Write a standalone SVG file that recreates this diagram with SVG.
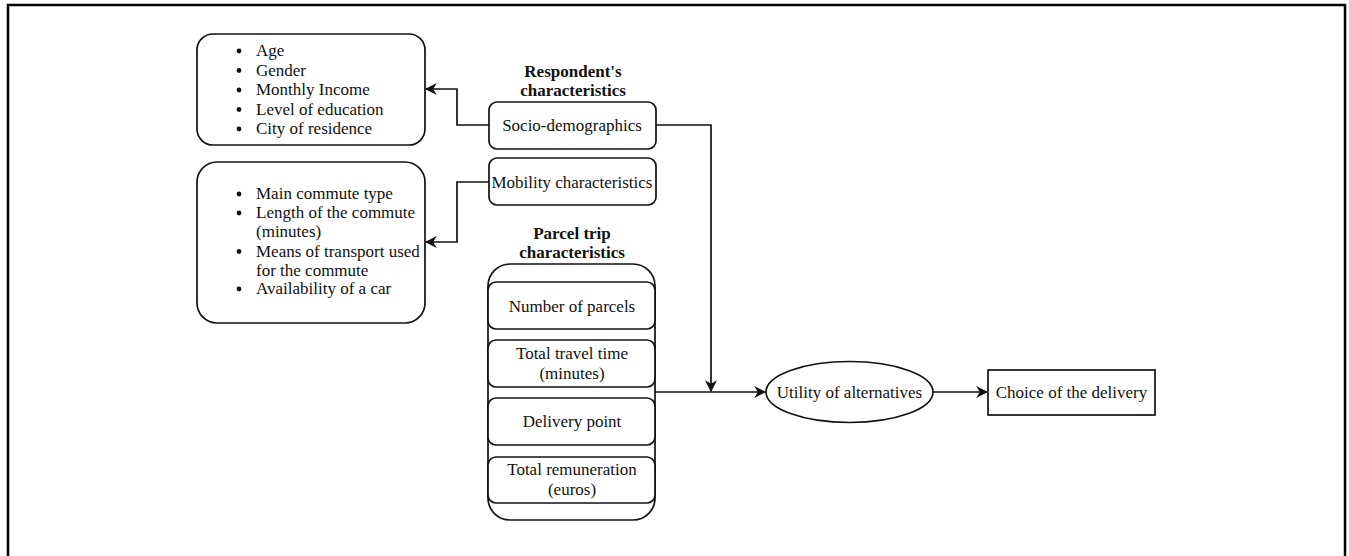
<svg xmlns="http://www.w3.org/2000/svg" width="1349" height="556" viewBox="0 0 1349 556">
<style>
text{font-family:"Liberation Serif","Times New Roman",serif;font-size:17px;fill:#111}
.c{text-anchor:middle}
.b{font-weight:bold}
.box{fill:#fff;stroke:#111;stroke-width:1.7}
.ln{fill:none;stroke:#111;stroke-width:1.7}
</style>
<defs>
<marker id="ah" viewBox="0 0 10 10" refX="9" refY="5" markerWidth="12" markerHeight="12" markerUnits="userSpaceOnUse" orient="auto">
<path d="M0,0 L10,5 L0,10 L3,5 z" fill="#111"/>
</marker>
</defs>
<rect width="1349" height="556" fill="#fff"/>
<path d="M8,556 V5 H1345 V556" fill="none" stroke="#000" stroke-width="2.5"/>

<g id="socio-list">
<rect class="box" x="197" y="34" width="228" height="111" rx="16"/>
<circle cx="239" cy="51" r="2.4" fill="#111"/><text x="256" y="56">Age</text>
<circle cx="239" cy="70.5" r="2.4" fill="#111"/><text x="256" y="75.5">Gender</text>
<circle cx="239" cy="90" r="2.4" fill="#111"/><text x="256" y="95">Monthly Income</text>
<circle cx="239" cy="109.5" r="2.4" fill="#111"/><text x="256" y="114.5">Level of education</text>
<circle cx="239" cy="129" r="2.4" fill="#111"/><text x="256" y="134">City of residence</text>
</g>

<g id="mobility-list">
<rect class="box" x="197" y="162" width="228" height="161" rx="20"/>
<circle cx="239" cy="194" r="2.4" fill="#111"/><text x="256" y="199">Main commute type</text>
<circle cx="239" cy="213" r="2.4" fill="#111"/><text x="256" y="218">Length of the commute</text>
<text x="256" y="237">(minutes)</text>
<circle cx="239" cy="251.5" r="2.4" fill="#111"/><text x="256" y="256.5">Means of transport used</text>
<text x="256" y="275.5">for the commute</text>
<circle cx="239" cy="289" r="2.4" fill="#111"/><text x="256" y="294">Availability of a car</text>
</g>

<g id="respondent-title">
<text class="c b" x="573" y="77">Respondent's</text>
<text class="c b" x="573" y="96">characteristics</text>
</g>

<g id="socio-demographics">
<rect class="box" x="489" y="102" width="167" height="47" rx="8"/>
<text class="c" x="572" y="131">Socio-demographics</text>
</g>

<g id="mobility">
<rect class="box" x="489" y="158" width="167" height="47" rx="8"/>
<text class="c" x="572" y="188">Mobility characteristics</text>
</g>

<g id="parcel-trip">
<text class="c b" x="572" y="239">Parcel trip</text>
<text class="c b" x="572" y="258">characteristics</text>
<rect class="box" x="488" y="264" width="167" height="256" rx="22"/>
<rect class="box" x="488" y="282" width="167" height="47" rx="8"/>
<text class="c" x="572" y="312">Number of parcels</text>
<rect class="box" x="488" y="340" width="167" height="47" rx="8"/>
<text class="c" x="572" y="359">Total travel time</text>
<text class="c" x="572" y="379">(minutes)</text>
<rect class="box" x="488" y="398" width="167" height="47" rx="8"/>
<text class="c" x="572" y="427">Delivery point</text>
<rect class="box" x="488" y="457" width="167" height="46" rx="8"/>
<text class="c" x="572" y="475">Total remuneration</text>
<text class="c" x="572" y="495">(euros)</text>
</g>

<g id="utility">
<ellipse class="box" cx="849.5" cy="392" rx="83.5" ry="30.5"/>
<text class="c" x="849.5" y="398">Utility of alternatives</text>
</g>

<g id="choice">
<rect class="box" x="988" y="370" width="167" height="45"/>
<text class="c" x="1071.5" y="398">Choice of the delivery</text>
</g>

<g id="connectors">
<path class="ln" d="M489,125 H457 V89 H426" marker-end="url(#ah)"/>
<path class="ln" d="M489,182 H457 V242 H426" marker-end="url(#ah)"/>
<path class="ln" d="M656,125 H711 V391" marker-end="url(#ah)"/>
<path class="ln" d="M655,392 H765" marker-end="url(#ah)"/>
<path class="ln" d="M933,392 H987" marker-end="url(#ah)"/>
</g>
</svg>
